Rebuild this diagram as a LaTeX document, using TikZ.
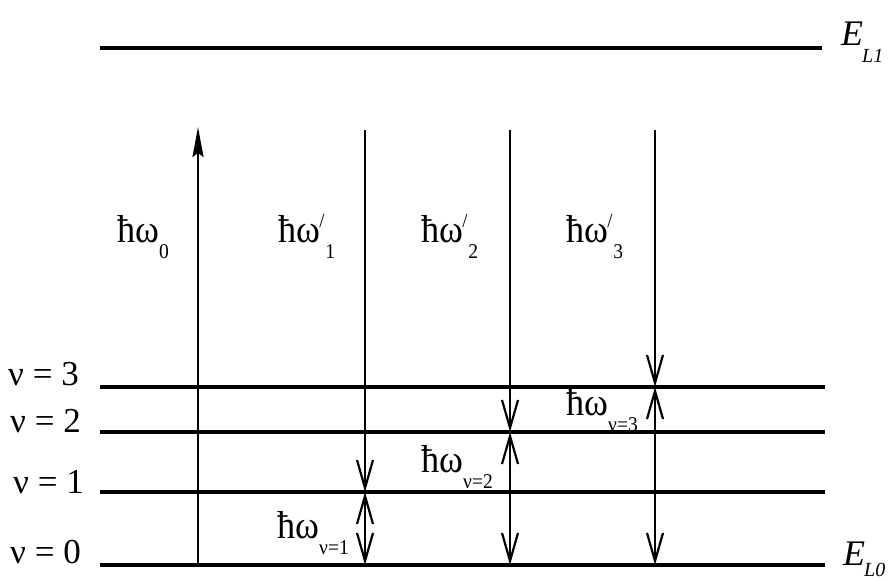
\documentclass[tikz,border=0pt]{standalone}
\usepackage{fontspec}
\setmainfont{Liberation Serif}
\usetikzlibrary{arrows.meta}
\newcommand\lowsub[1]{\raisebox{-16pt}{\fontsize{21}{21}\selectfont #1}}
\newcommand\slashsup{\raisebox{15pt}{\fontsize{20}{20}\selectfont /}}
\begin{document}
\begin{tikzpicture}[x=1pt,y=-1pt,
  levelline/.style={line width=4pt},
  trans/.style={line width=2.2pt},
  barb/.tip={Straight Barb[length=28pt,width=16pt]},
  uptip/.tip={Stealth[length=30pt,width=11pt,inset=4pt]},
  vlbl/.style={font=\fontsize{35}{35}\selectfont, anchor=base west, inner sep=0pt},
  hlbl/.style={font=\fontsize{39}{39}\selectfont, anchor=base west, inner sep=0pt, xscale=0.93},
  elbl/.style={font=\fontsize{36}{36}\selectfont\itshape, anchor=base west, inner sep=0pt}]
\useasboundingbox (0,0) rectangle (889,581);
% level end points
\coordinate (u0) at (100,48);  \coordinate (u1) at (822,48);
\coordinate (l3a) at (100,387); \coordinate (l3b) at (825,387);
\coordinate (l2a) at (100,432); \coordinate (l2b) at (825,432);
\coordinate (l1a) at (100,492); \coordinate (l1b) at (825,492);
\coordinate (l0a) at (100,565); \coordinate (l0b) at (825,565);
\draw[levelline] (u0) -- (u1);
\draw[levelline] (l3a) -- (l3b);
\draw[levelline] (l2a) -- (l2b);
\draw[levelline] (l1a) -- (l1b);
\draw[levelline] (l0a) -- (l0b);
% arrow end points
\coordinate (a0b) at (198,565); \coordinate (a0t) at (198,127);
\coordinate (a1t) at (365,130); \coordinate (a1m) at (365,492); \coordinate (a1b) at (365,565);
\coordinate (a2t) at (510,130); \coordinate (a2m) at (510,432); \coordinate (a2b) at (510,565);
\coordinate (a3t) at (655,130); \coordinate (a3m) at (655,387); \coordinate (a3b) at (655,565);
\draw[trans,-{uptip}] (a0b) -- (a0t);
\draw[trans,-{barb}] (a1t) -- (a1m);
\draw[trans,{barb}-{barb}] (a1m) -- (a1b);
\draw[trans,-{barb}] (a2t) -- (a2m);
\draw[trans,{barb}-{barb}] (a2m) -- (a2b);
\draw[trans,-{barb}] (a3t) -- (a3m);
\draw[trans,{barb}-{barb}] (a3m) -- (a3b);
% level labels
\node[vlbl] (n3) at (8,385) {ν = 3};
\node[vlbl] (n2) at (10,432) {ν = 2};
\node[vlbl] (n1) at (13,493) {ν = 1};
\node[vlbl] (n0) at (10,563) {ν = 0};
\node[elbl] (e1) at (841,45) {E\kern-1pt\raisebox{-17pt}{\fontsize{20}{20}\selectfont L1}};
\node[elbl] (e0) at (843,565) {E\kern-1pt\raisebox{-11pt}{\fontsize{20}{20}\selectfont L0}};
% photon labels
\node[hlbl] (w0) at (117,242) {ħω\lowsub{0}};
\node[hlbl] (w1) at (278,242) {ħω\kern-1pt\slashsup\kern1pt\lowsub{1}};
\node[hlbl] (w2) at (421,242) {ħω\kern-1pt\slashsup\kern1pt\lowsub{2}};
\node[hlbl] (w3) at (566,242) {ħω\kern-1pt\slashsup\kern1pt\lowsub{3}};
\node[hlbl] (v1) at (277,538) {ħω\lowsub{ν=1}};
\node[hlbl] (v2) at (421,472) {ħω\lowsub{ν=2}};
\node[hlbl] (v3) at (566,415) {ħω\lowsub{ν=3}};
\end{tikzpicture}
\end{document}
